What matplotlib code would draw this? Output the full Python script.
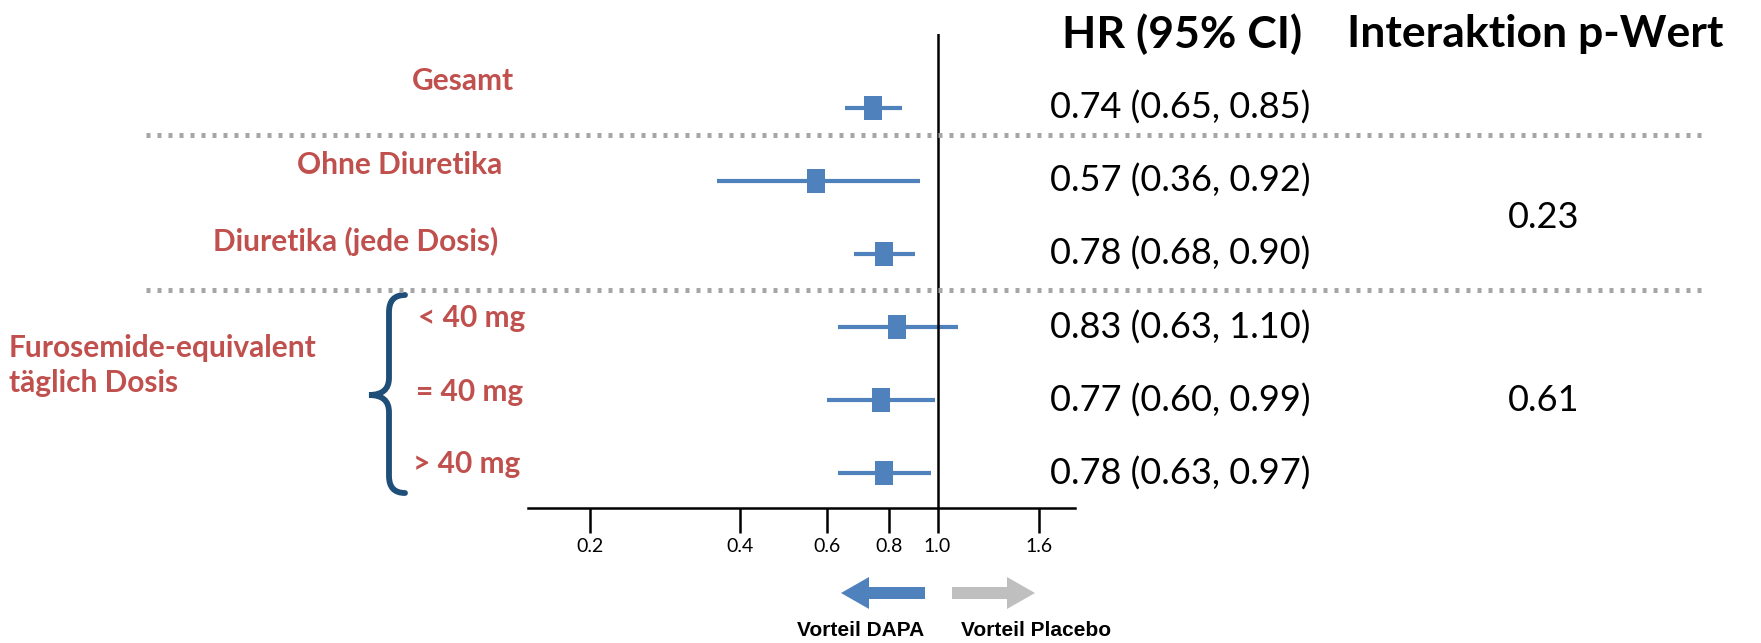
import matplotlib
matplotlib.use("Agg")
import matplotlib.pyplot as plt
from matplotlib import transforms
from matplotlib.path import Path
from matplotlib.patches import PathPatch, FancyArrow
from matplotlib.lines import Line2D

# data
labels = ["Gesamt", "Ohne Diuretika", "Diuretika (jede Dosis)", "< 40 mg", "= 40 mg", "> 40 mg"]
hr = [0.74, 0.57, 0.78, 0.83, 0.77, 0.78]
ci_low = [0.65, 0.36, 0.68, 0.63, 0.60, 0.63]
ci_high = [0.85, 0.92, 0.90, 1.10, 0.99, 0.97]
p_values = ["0.23", "0.61"]
p_rows = [1.5, 4.0]
tick_values = [0.2, 0.4, 0.6, 0.8, 1.0, 1.6]
tick_labels = ["0.2", "0.4", "0.6", "0.8", "1.0", "1.6"]
group_label = "Furosemide-equivalent\ntäglich Dosis"

RED = "#C0504D"
BLUE = "#4F81BD"
GREY = "#A6A6A6"
BRACE = "#1F4E79"
FONT = ["Lato", "DejaVu Sans"]

W, H = 1761, 643
fig = plt.figure(figsize=(W / 100, H / 100), dpi=100)
# pixel coordinates (origin top-left) for the decorations around the plot
pix = transforms.Affine2D().scale(1 / W, -1 / H).translate(0, 1) + fig.transFigure

ax = fig.add_axes([528 / W, 1 - 507.6 / H, (1075 - 528) / W, (507.6 - 34) / H])
rows = list(range(len(labels)))

ax.set_xscale("log")
ax.set_xlim(0.15, 1.89)
ax.set_ylim(5.47, -1.01)

# slightly tall box marker like the original
box = [(-0.375, -0.5), (0.375, -0.5), (0.375, 0.5), (-0.375, 0.5), (-0.375, -0.5)]
for r, lo, hi in zip(rows, ci_low, ci_high):
    ax.plot([lo, hi], [r, r], color=BLUE, lw=3.0, solid_capstyle="butt")
ax.plot(hr, rows, ls="none", marker=box, ms=17, color=BLUE, mew=0)

ax.axvline(1.0, color="black", lw=1.8)

for side in ["top", "right", "left"]:
    ax.spines[side].set_visible(False)
ax.spines["bottom"].set_linewidth(1.8)
ax.set_yticks([])
ax.set_xticks(tick_values)
ax.set_xticklabels(tick_labels, fontsize=14, family=FONT)
ax.xaxis.set_minor_locator(matplotlib.ticker.NullLocator())
ax.tick_params(axis="x", direction="out", length=18, width=1.8, pad=4)

# text columns aligned on the rows
blend = transforms.blended_transform_factory(pix, ax.transData)
label_shift = [-0.37, -0.22, -0.17, -0.13, -0.11, -0.13]
label_x = [514, 502, 498, 418, 416, 413]
for r, lab in enumerate(labels):
    ax.text(label_x[r], r + label_shift[r], lab, transform=blend,
            ha="right" if r < 3 else "left", va="center", color=RED,
            fontsize=21.5, fontweight="bold", family=FONT)
ax.text(9, 3.53, group_label, transform=blend, ha="left", va="center", color=RED,
        fontsize=21.5, fontweight="bold", family=FONT, linespacing=1.3)

for r, h, lo, hi in zip(rows, hr, ci_low, ci_high):
    ax.text(1050, r, f"{h:.2f} ({lo:.2f}, {hi:.2f})", transform=blend,
            ha="left", va="center", fontsize=26, family=FONT)
for r, p in zip(p_rows, p_values):
    ax.text(1544, r, p, transform=blend, ha="center", va="center", fontsize=26, family=FONT)

fig.text(1062, 34, "HR (95% CI)", transform=pix, ha="left", va="center",
         fontsize=32, fontweight="bold", family=FONT)
fig.text(1347, 34, "Interaktion p-Wert", transform=pix, ha="left", va="center",
         fontsize=32, fontweight="bold", family=FONT)

# dotted separators
for yr in [0.37, 2.49]:
    fig.add_artist(Line2D([146, 1704], [yr, yr], transform=blend, color=GREY,
                          lw=3.6, ls=(0, (0.8, 1.4))))

# curly brace for the dose subgroups
verts = [(405, 295), (389, 295), (389, 312), (389, 330),
         (389, 378), (389, 395), (369, 395),
         (389, 395), (389, 412),
         (389, 476), (389, 493), (405, 493)]
codes = [Path.MOVETO, Path.CURVE3, Path.CURVE3, Path.LINETO,
         Path.LINETO, Path.CURVE3, Path.CURVE3,
         Path.CURVE3, Path.CURVE3,
         Path.LINETO, Path.CURVE3, Path.CURVE3]
fig.add_artist(PathPatch(Path(verts, codes), transform=pix, fill=False,
                         edgecolor=BRACE, lw=4.2, capstyle="round"))

# direction arrows
fig.add_artist(FancyArrow(925, 593, -84, 0, width=12, head_width=32, head_length=28,
                          length_includes_head=True, transform=pix, color=BLUE, lw=0))
fig.add_artist(FancyArrow(952, 593, 83, 0, width=12, head_width=32, head_length=28,
                          length_includes_head=True, transform=pix, color="#BFBFBF", lw=0))
fig.text(861, 630, "Vorteil DAPA", transform=pix, ha="center", va="center",
         fontsize=15, fontweight="bold", family="Liberation Sans")
fig.text(1036, 631, "Vorteil Placebo", transform=pix, ha="center", va="center",
         fontsize=15, fontweight="bold", family="Liberation Sans")

fig.savefig("out.png", dpi=100)
